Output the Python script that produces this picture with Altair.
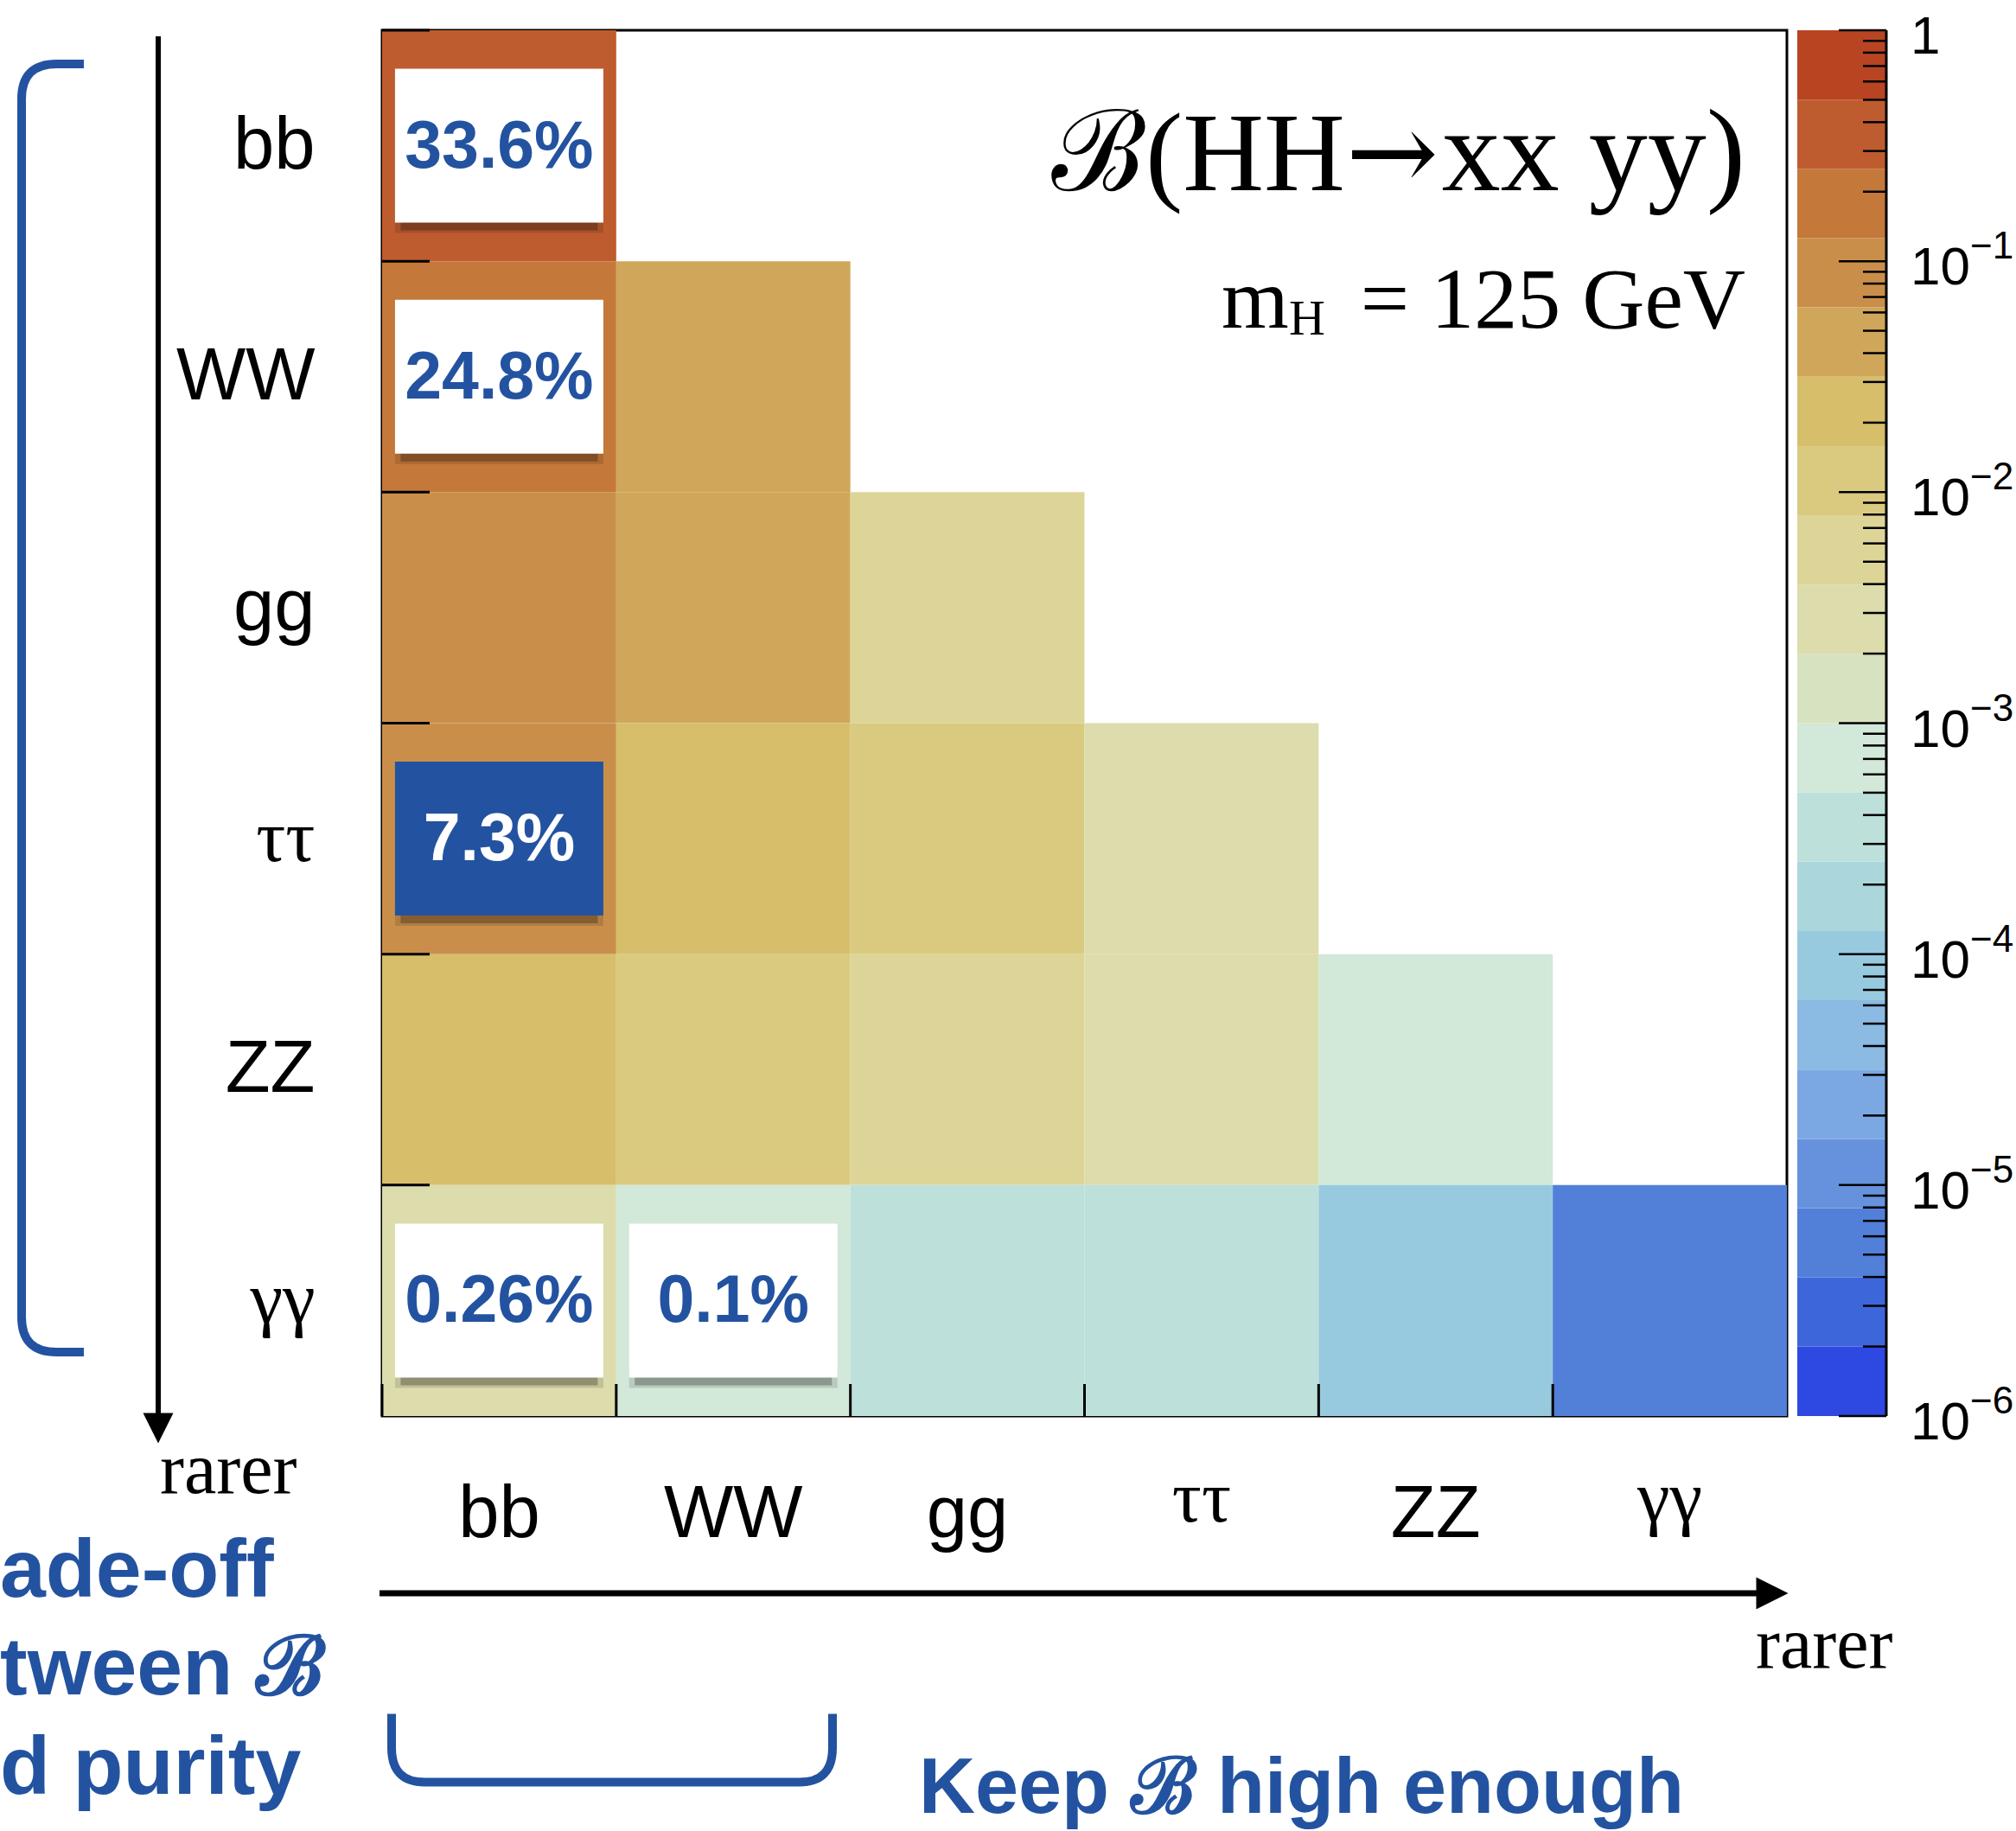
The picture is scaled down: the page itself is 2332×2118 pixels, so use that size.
import altair as alt
import pandas as pd

# ---------------- data ----------------
channels = ["bb", "WW", "gg", "ττ", "ZZ", "γγ"]
# branching ratio of HH -> xx yy ; row = second channel (y), columns = first channel (x)
row_bb = [0.336]
row_WW = [0.248, 0.0463]
row_gg = [0.0950, 0.0352, 0.0067]
row_tt = [0.0730, 0.0270, 0.0103, 0.0039]
row_ZZ = [0.0307, 0.0114, 0.0043, 0.0033, 0.00070]
row_aa = [0.0026, 0.00098, 0.00037, 0.00028, 0.00012, 0.0000052]
rows_values = [row_bb, row_WW, row_gg, row_tt, row_ZZ, row_aa]

box_col = ["bb", "bb", "bb", "bb", "WW"]
box_row = ["bb", "WW", "ττ", "γγ", "γγ"]
box_text = ["33.6%", "24.8%", "7.3%", "0.26%", "0.1%"]
box_dark = [False, False, True, False, False]

# colour palette, from 1e-6 (bottom) to 1 (top), 20 contour levels
palette = ["#2e48e2", "#3e66db", "#5280d8", "#6692dd", "#7ba8e3", "#8bbae2",
           "#98cadf", "#aad6dc", "#bee0db", "#d2e8d8", "#d7e2c0", "#dcdcac",
           "#ddd598", "#daca80", "#d6be6b", "#d0a75a", "#c98f4a", "#c4783a",
           "#be5c2f", "#b84422"]
cb_tick_values = [1, 1e-1, 1e-2, 1e-3, 1e-4, 1e-5, 1e-6]
cb_tick_base = ["1", "10", "10", "10", "10", "10", "10"]
cb_tick_exp = ["", "−1", "−2", "−3", "−4", "−5", "−6"]

BLUE = "#2353a0"
W, H = 1625, 1603
OX, OY = 442, 35  # plot origin in the page

# ---------------- tables ----------------
cells = []
for r, vals in zip(channels, rows_values):
    for c, v in zip(channels, vals):
        cells.append({"col": c, "row": r, "value": v})
cells = pd.DataFrame(cells)

boxes = pd.DataFrame({"col": box_col, "row": box_row, "text": box_text, "dark": box_dark})
boxes_w = boxes[~boxes["dark"]][["col", "row", "text"]]
boxes_b = boxes[boxes["dark"]][["col", "row", "text"]]

thresholds = [10 ** (-6 + 0.3 * k) for k in range(1, 20)]
bands = pd.DataFrame({
    "lo": [10 ** (-6 + 0.3 * k) for k in range(20)],
    "hi": [10 ** (-6 + 0.3 * (k + 1)) for k in range(20)],
})
bands["mid"] = (bands["lo"] * bands["hi"]) ** 0.5

major = pd.DataFrame({"v": cb_tick_values, "base": cb_tick_base, "exp": cb_tick_exp})
minor = pd.DataFrame({"v": [m * 10 ** e for e in range(-6, 0) for m in range(2, 10)]})
edges = pd.DataFrame({"col": channels, "row": channels})

color_scale = alt.Scale(type="threshold", domain=thresholds, range=palette)
xs = alt.Scale(domain=channels, paddingInner=0, paddingOuter=0)
ys = alt.Scale(domain=channels, paddingInner=0, paddingOuter=0)
greek = "datum.value == 'ττ' || datum.value == 'γγ'"
xaxis = alt.Axis(title=None, orient="bottom", labelFontSize=85, labelColor="black",
                 labelFont={"condition": {"test": greek, "value": "Liberation Serif"},
                            "value": "Liberation Sans"},
                 labelBaseline={"condition": {"test": greek, "value": "bottom"},
                                "value": "alphabetic"},
                 labelPadding=139, labelAngle=0,
                 ticks=False, tickSize=0, domain=False, grid=False)
yaxis = alt.Axis(title=None, orient="left", labelFontSize=85, labelColor="black",
                 labelFont={"condition": {"test": greek, "value": "Liberation Serif"},
                            "value": "Liberation Sans"},
                 labelPadding=78, labelAlign="right", labelBaseline="middle",
                 ticks=False, tickSize=0, domain=False, grid=False)

X = lambda **kw: alt.X("col:N", scale=xs, axis=xaxis, **kw)
Y = lambda **kw: alt.Y("row:N", scale=ys, axis=yaxis, **kw)

heat_rect = alt.Chart(cells).mark_rect(strokeWidth=0).encode(
    x=X(), y=Y(),
    color=alt.Color("value:Q", scale=color_scale, legend=None),
)
ytick = alt.Chart(edges).mark_rule(color="black", strokeWidth=3).encode(
    y=Y(bandPosition=0), x=alt.value(0), x2=alt.value(55))
xtick = alt.Chart(edges).mark_rule(color="black", strokeWidth=3).encode(
    x=X(bandPosition=0), y=alt.value(H - 37), y2=alt.value(H))
shadow1 = alt.Chart(boxes).mark_rect(width=241, height=22, yOffset=90, color="black",
                                     opacity=0.12).encode(x=X(), y=Y())
shadow2 = alt.Chart(boxes).mark_rect(width=228, height=12, yOffset=92, color="black",
                                     opacity=0.25).encode(x=X(), y=Y())
box_w = alt.Chart(boxes_w).mark_rect(width=241, height=178, color="white").encode(
    x=X(), y=Y())
box_b = alt.Chart(boxes_b).mark_rect(width=241, height=178, color=BLUE).encode(
    x=X(), y=Y())
LFONT = "Liberation Sans"
lbl_w = alt.Chart(boxes_w).mark_text(font=LFONT, fontWeight="bold", fontSize=77,
                                     align="center", baseline="middle", dy=2,
                                     color=BLUE).encode(x=X(), y=Y(), text="text:N")
lbl_b = alt.Chart(boxes_b).mark_text(font=LFONT, fontWeight="bold", fontSize=77,
                                     align="center", baseline="middle", dy=2,
                                     color="white").encode(x=X(), y=Y(), text="text:N")

heat = alt.layer(heat_rect, ytick, xtick, shadow1, shadow2, box_w, box_b, lbl_w, lbl_b)

# ---------------- colour bar ----------------
cys = alt.Scale(type="log", domain=[1e-6, 1], nice=False)
CB0, CB1 = 2079 - OX, 2182 - OX
cb_rect = alt.Chart(bands).mark_rect().encode(
    y=alt.Y("lo:Q", scale=cys, axis=None), y2="hi:Q",
    x=alt.value(CB0), x2=alt.value(CB1),
    color=alt.Color("mid:Q", scale=color_scale, legend=None))
cb_major = alt.Chart(major).mark_rule(color="black", strokeWidth=2.5).encode(
    y=alt.Y("v:Q", scale=cys, axis=None), x=alt.value(CB1 - 55), x2=alt.value(CB1))
cb_minor = alt.Chart(minor).mark_rule(color="black", strokeWidth=2.5).encode(
    y=alt.Y("v:Q", scale=cys, axis=None), x=alt.value(CB1 - 27), x2=alt.value(CB1))
cb_base = alt.Chart(major).mark_text(font="Liberation Sans", fontSize=62, align="left",
                                     baseline="middle", dy=8).encode(
    y=alt.Y("v:Q", scale=cys, axis=None), x=alt.value(2210 - OX), text="base:N")
cb_exp = alt.Chart(major).mark_text(font="Liberation Sans", fontSize=44, align="left",
                                    baseline="middle", dy=-16).encode(
    y=alt.Y("v:Q", scale=cys, axis=None), x=alt.value(2279 - OX), text="exp:N")

# ---------------- annotations ----------------
one = alt.Data(values=[{"a": 1}])


def txt(s, x, y, size, font="Liberation Serif", color="black", align="left",
        weight="normal"):
    return alt.Chart(one).mark_text(text=s, font=font, fontSize=size, color=color,
                                    align=align, baseline="alphabetic",
                                    fontWeight=weight).encode(
        x=alt.value(x - OX), y=alt.value(y - OY))


def shape(path, x, y, size, filled, color, sw=0):
    return alt.Chart(one).mark_point(shape=path, size=size, filled=filled, opacity=1,
                                     color=color, strokeWidth=sw).encode(
        x=alt.value(x - OX), y=alt.value(y - OY))


def rule(x1, y1, x2, y2, sw):
    return alt.Chart(one).mark_rule(color="black", strokeWidth=sw).encode(
        x=alt.value(x1 - OX), y=alt.value(y1 - OY),
        x2=alt.value(x2 - OX), y2=alt.value(y2 - OY))


annots = [
    rule(2182, 35, 2182, 1638, 3),
    txt("xx yy)", 2019, 220, 136, align="right"),
    txt("→", 1664, 220, 128, font="DejaVu Serif", align="right"),
    txt("ℬ(HH", 1556, 220, 130, align="right"),
    txt("m", 1413, 379, 100),
    txt("H", 1491, 387, 58),
    txt("= 125 GeV", 2019, 379, 100, align="right"),
    rule(183, 42, 183, 1640, 6),
    shape("M -1 -1 L 1 -1 L 0 1 Z", 183, 1652, 1225, True, "black"),
    txt("rarer", 185, 1727, 84),
    rule(439, 1843, 2035, 1843, 7),
    shape("M -1 -1 L 1 0 L -1 1 Z", 2050, 1843, 1369, True, "black"),
    txt("rarer", 2031, 1929, 84),
    shape("M 0.0483 -1 L 0.006 -1 Q -0.0483 -1 -0.0483 -0.946 L -0.0483 0.946 "
          "Q -0.0483 1 0.006 1 L 0.0483 1", 61, 819, 1490 ** 2, False, BLUE, 10),
    shape("M -1 -0.155 L -1 0.0 Q -1 0.155 -0.85 0.155 L 0.85 0.155 "
          "Q 1 0.155 1 0.0 L 1 -0.155", 708, 2022, 510 ** 2, False, BLUE, 10),
    txt("ade-off", 0, 1847, 95, font="Liberation Sans", color=BLUE, weight="bold"),
    txt("tween ℬ", 0, 1960, 95, font="Liberation Sans", color=BLUE, weight="bold"),
    txt("d purity", 0, 2075, 95, font="Liberation Sans", color=BLUE, weight="bold"),
    txt("Keep ℬ high enough", 1063, 2097, 90, font="Liberation Sans", color=BLUE,
        weight="bold"),
]

cbar = alt.layer(cb_rect, cb_minor, cb_major, cb_base, cb_exp, *annots)

chart = alt.layer(heat, cbar).resolve_scale(y="independent").properties(
    width=W, height=H,
    padding={"left": OX, "top": OY, "right": 2332 - OX - W, "bottom": 2118 - OY - H},
    autosize=alt.AutoSizeParams(type="none"),
    background="white",
).configure_view(stroke="black", strokeWidth=3)

chart.save("out.html", embed_options={"renderer": "svg", "actions": False})
